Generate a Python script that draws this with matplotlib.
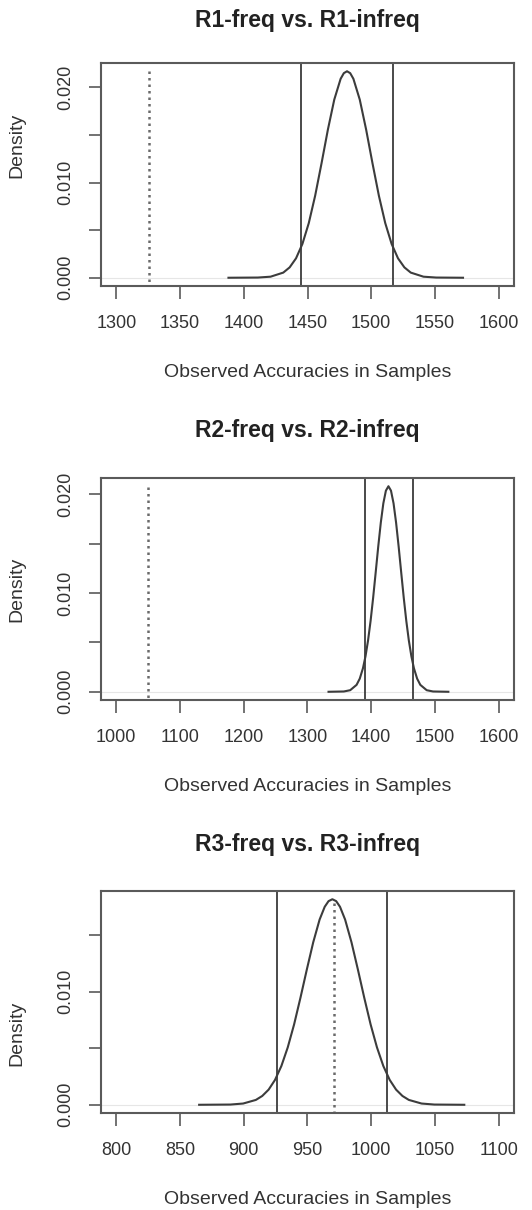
import matplotlib
matplotlib.use("Agg")
import matplotlib.pyplot as plt

plt.rcParams['font.family'] = ['Liberation Sans', 'DejaVu Sans']

# panel titles
titles = ["R1-freq vs. R1-infreq", "R2-freq vs. R2-infreq", "R3-freq vs. R3-infreq"]

# density curves
r1_x = [1388, 1411, 1421, 1431, 1436, 1441, 1446, 1451, 1456, 1461, 1466, 1471, 1476, 1478.5,
        1481, 1483.5, 1486, 1491, 1496, 1501, 1506, 1511, 1516, 1521, 1526, 1531, 1541, 1551, 1572]
r1_y = [0.0, 0.00002, 0.00011, 0.00054, 0.00109, 0.00204, 0.00355, 0.00574, 0.00862, 0.01202,
        0.01557, 0.01872, 0.02091, 0.0215, 0.0217, 0.0215, 0.02091, 0.01872, 0.01557, 0.01202,
        0.00862, 0.00574, 0.00355, 0.00204, 0.00109, 0.00054, 0.00011, 0.00002, 0.0]

r2_x = [1333, 1357, 1367, 1377, 1382, 1387, 1391, 1395, 1399, 1403, 1407, 1411, 1415, 1419, 1423,
        1427, 1431, 1435, 1439, 1443, 1447, 1451, 1455, 1459, 1463, 1467, 1472, 1477, 1487, 1497, 1521]
r2_y = [0.0, 0.00003, 0.00016, 0.00070, 0.00133, 0.00238, 0.00359, 0.00519, 0.00718, 0.00952,
        0.01209, 0.01470, 0.01711, 0.01907, 0.02035, 0.0208, 0.02035, 0.01907, 0.01711, 0.01470,
        0.01209, 0.00952, 0.00718, 0.00519, 0.00359, 0.00238, 0.00133, 0.00070, 0.00016, 0.00003, 0.0]

r3_x = [865, 889.5, 899.5, 909.5, 914.5, 919.5, 924.5, 929.5, 934.5, 939.5, 944.5, 949.5, 954.5,
        959.5, 963.5, 966.5, 969.5, 972.5, 975.5, 979.5, 984.5, 989.5, 994.5, 999.5, 1004.5,
        1009.5, 1014.5, 1019.5, 1024.5, 1029.5, 1039.5, 1049.5, 1073]
r3_y = [0.0, 0.00002, 0.00011, 0.00043, 0.00078, 0.00134, 0.00220, 0.00343, 0.00508, 0.00712,
        0.00949, 0.01199, 0.01439, 0.01640, 0.01753, 0.01803, 0.0182, 0.01803, 0.01753, 0.01640,
        0.01439, 0.01199, 0.00949, 0.00712, 0.00508, 0.00343, 0.00220, 0.00134, 0.00078, 0.00043,
        0.00011, 0.00002, 0.0]

curves_x = [r1_x, r2_x, r3_x]
curves_y = [r1_y, r2_y, r3_y]

# interval bounds (solid) and observed value (dotted)
ci_lo = [1445, 1390, 926]
ci_hi = [1517, 1465, 1012]
observed = [1326, 1049, 971]

xticks = [list(range(1300, 1601, 50)), list(range(1000, 1601, 100)), list(range(800, 1101, 50))]
yticks = [[0.0, 0.005, 0.010, 0.015, 0.020],
          [0.0, 0.005, 0.010, 0.015, 0.020],
          [0.0, 0.005, 0.010, 0.015]]
ytick_labels = [["0.000", "", "0.010", "", "0.020"],
                ["0.000", "", "0.010", "", "0.020"],
                ["0.000", "", "0.010", ""]]

# layout in pixels (top, bottom) of each plot box
W, H = 532, 1210
boxes = [(63, 286), (478, 700), (891, 1113)]
title_y = [20, 431, 844]
ylabel_pos = [0.63, 0.5, 0.36]

line_col = "#3c3c3c"
box_col = "#5a5a5a"

fig = plt.figure(figsize=(W / 100, H / 100), dpi=100)

for i in range(3):
    top, bot = boxes[i]
    ax = fig.add_axes([101 / W, 1 - bot / H, 413 / W, (bot - top) / H])
    lo, hi = xticks[i][0], xticks[i][-1]
    ymax = max(curves_y[i])
    ax.set_xlim(lo - 0.04 * (hi - lo), hi + 0.04 * (hi - lo))
    ax.set_ylim(-0.04 * ymax, 1.04 * ymax)

    ax.axhline(0, color="#e6e6e6", lw=0.8, zorder=1)
    ax.plot(curves_x[i], curves_y[i], color=line_col, lw=1.5, zorder=3)
    ax.axvline(ci_lo[i], color=line_col, lw=1.3, zorder=2)
    ax.axvline(ci_hi[i], color=line_col, lw=1.3, zorder=2)
    ax.vlines(observed[i], -1, ymax, color="#6a6a6a", lw=1.8, linestyles=(0, (1, 1.6)), zorder=2)

    ax.set_xticks(xticks[i])
    ax.set_xticklabels([str(t) for t in xticks[i]])
    ax.set_yticks(yticks[i])
    ax.set_yticklabels(ytick_labels[i], rotation=90, va="center")
    ax.tick_params(axis="both", direction="out", length=9, width=1.2, color=box_col,
                   labelsize=13, labelcolor="#333333")
    ax.tick_params(axis="x", pad=12)
    ax.tick_params(axis="y", pad=10)
    for s in ax.spines.values():
        s.set_color(box_col)
        s.set_linewidth(1.5)

    ax.set_xlabel("Observed Accuracies in Samples", fontsize=14, color="#333333")
    ax.xaxis.set_label_coords(0.5, -0.39)
    ax.xaxis.label.set_va("center")
    ax.set_ylabel("Density", fontsize=14, color="#333333")
    ax.yaxis.set_label_coords(-0.204, ylabel_pos[i])
    ax.yaxis.label.set_va("center")

    fig.text(0.5 * (101 + 514) / W, 1 - title_y[i] / H, titles[i], ha="center", va="center",
             fontsize=16.5, fontweight="bold", color="#222222")

fig.savefig("out.png", dpi=100, facecolor="white")
